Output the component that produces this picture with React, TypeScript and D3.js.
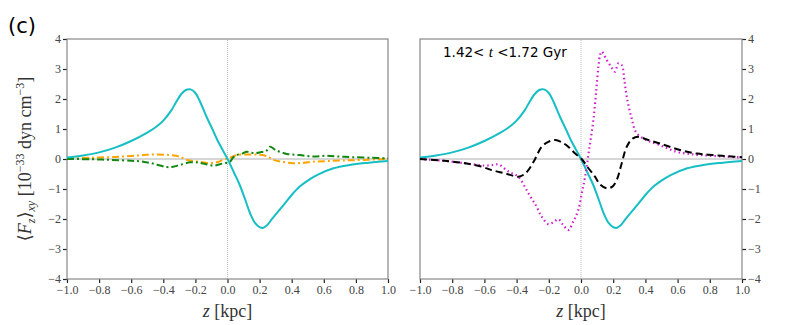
import React, { useEffect, useRef } from 'react'
import * as d3 from 'd3'

// cyan curve, same in both panels
const cyanZ = [-1, -0.9, -0.8, -0.7, -0.6, -0.5, -0.45, -0.4, -0.35, -0.32, -0.29, -0.26, -0.23, -0.2, -0.17, -0.13, -0.09, -0.065, -0.03, 0.005, 0.04, 0.075, 0.11, 0.14, 0.17, 0.2, 0.22, 0.245, 0.28, 0.35, 0.4, 0.45, 0.5, 0.56, 0.66, 0.76, 0.87, 1]
const cyanV = [0.05, 0.12, 0.22, 0.38, 0.6, 0.88, 1.05, 1.28, 1.62, 1.9, 2.15, 2.3, 2.32, 2.2, 1.9, 1.4, 0.95, 0.65, 0.3, -0.05, -0.45, -0.85, -1.35, -1.8, -2.12, -2.27, -2.3, -2.22, -1.98, -1.53, -1.2, -0.92, -0.72, -0.53, -0.31, -0.2, -0.13, -0.07]

// left panel
const orangeZ = [-1, -0.85, -0.7, -0.6, -0.525, -0.45, -0.358, -0.3, -0.254, -0.18, -0.11, -0.06, -0.03, 0.02, 0.057, 0.12, 0.22, 0.26, 0.285, 0.35, 0.41, 0.47, 0.535, 0.62, 0.72, 0.85, 1]
const orangeV = [0.02, 0.04, 0.07, 0.1, 0.13, 0.15, 0.13, 0.08, -0.03, -0.09, -0.14, -0.1, -0.03, 0.05, 0.13, 0.15, 0.13, 0.05, -0.03, -0.1, -0.14, -0.13, -0.09, -0.07, -0.05, -0.03, 0]
const greenZ = [-1, -0.85, -0.73, -0.6, -0.525, -0.45, -0.377, -0.34, -0.296, -0.233, -0.18, -0.15, -0.09, -0.03, 0.016, 0.035, 0.057, 0.09, 0.12, 0.15, 0.18, 0.21, 0.24, 0.265, 0.3, 0.37, 0.45, 0.535, 0.617, 0.7, 0.78, 0.9, 1]
const greenV = [0, -0.01, -0.03, -0.06, -0.09, -0.17, -0.27, -0.26, -0.2, -0.11, -0.12, -0.15, -0.22, -0.15, -0.09, 0.05, 0.13, 0.18, 0.24, 0.21, 0.2, 0.23, 0.26, 0.41, 0.3, 0.17, 0.13, 0.08, 0.11, 0.08, 0.06, 0.04, 0.02]

// right panel
const blackZ = [-1, -0.85, -0.72, -0.62, -0.555, -0.47, -0.39, -0.355, -0.327, -0.29, -0.244, -0.2, -0.16, -0.12, -0.079, -0.04, 0.004, 0.045, 0.087, 0.118, 0.16, 0.195, 0.222, 0.25, 0.284, 0.32, 0.356, 0.408, 0.5, 0.615, 0.72, 0.82, 0.92, 1]
const blackV = [0, -0.06, -0.14, -0.25, -0.37, -0.48, -0.59, -0.52, -0.37, -0.05, 0.41, 0.58, 0.63, 0.56, 0.41, 0.2, 0, -0.3, -0.59, -0.85, -0.98, -0.92, -0.7, -0.2, 0.41, 0.68, 0.74, 0.65, 0.5, 0.3, 0.18, 0.13, 0.09, 0.06]
const magentaZ = [-1, -0.85, -0.72, -0.6, -0.545, -0.513, -0.45, -0.39, -0.327, -0.28, -0.244, -0.203, -0.17, -0.14, -0.11, -0.079, -0.045, -0.017, 0.005, 0.025, 0.05, 0.077, 0.095, 0.108, 0.118, 0.128, 0.16, 0.19, 0.211, 0.232, 0.253, 0.27, 0.284, 0.31, 0.346, 0.408, 0.49, 0.594, 0.7, 0.8, 0.9, 1]
const magentaV = [0, -0.06, -0.14, -0.22, -0.2, -0.18, -0.42, -0.59, -1.14, -1.55, -1.92, -2.17, -2.1, -2.01, -2.2, -2.37, -2.05, -1.7, -1.14, -0.6, 0.3, 1.3, 2.3, 3.08, 3.45, 3.58, 3.3, 3.05, 2.91, 3.19, 3.13, 2.6, 2.08, 1.45, 0.86, 0.63, 0.46, 0.24, 0.15, 0.11, 0.08, 0.05]

const xTicks = [-1, -0.8, -0.6, -0.4, -0.2, 0, 0.2, 0.4, 0.6, 0.8, 1]
const yTicks = [-4, -3, -2, -1, 0, 1, 2, 3, 4]

const W = 789
const H = 325
const SERIF = 'Liberation Serif, DejaVu Serif, serif'
const SANS = 'DejaVu Sans, sans-serif'

export default function App() {
  const svgRef = useRef<SVGSVGElement>(null)

  useEffect(() => {
    const svg = d3.select(svgRef.current)
    svg.selectAll('*').remove()

    const y = d3.scaleLinear().domain([-4, 4]).range([279, 39])
    const fmt = (v: number) => d3.format('.1f')(v).replace('-', '\u2212')

    const panel = (x0: number, x1: number, rightAxis: boolean) => {
      const x = d3.scaleLinear().domain([-1, 1]).range([x0, x1])
      const g = svg.append('g')

      // zero guide lines
      g.append('line')
        .attr('x1', x0).attr('x2', x1)
        .attr('y1', y(0)).attr('y2', y(0))
        .attr('stroke', '#999').attr('stroke-width', 0.8)
      g.append('line')
        .attr('x1', x(0)).attr('x2', x(0))
        .attr('y1', y(-4)).attr('y2', y(4))
        .attr('stroke', '#aaa').attr('stroke-width', 0.8)
        .attr('stroke-dasharray', '1,1')

      const xa = g.append('g')
        .attr('transform', `translate(0,${y(-4)})`)
        .call(d3.axisBottom(x).tickValues(xTicks).tickSize(4).tickPadding(2).tickFormat(d => fmt(+d)))
      const ya = g.append('g')
        .attr('transform', `translate(${rightAxis ? x1 : x0},0)`)
        .call((rightAxis ? d3.axisRight(y) : d3.axisLeft(y)).tickValues(yTicks).tickSize(4).tickPadding(2)
          .tickFormat(d => String(d).replace('-', '\u2212')))
      for (const a of [xa, ya]) {
        a.attr('font-family', null)
        a.select('.domain').remove()
        a.selectAll('line').attr('stroke', '#222').attr('stroke-width', 1.2)
        a.selectAll('text').style('font-family', SERIF).style('font-size', '12px').attr('fill', '#444')
      }

      g.append('rect')
        .attr('x', x0).attr('y', y(4))
        .attr('width', x1 - x0).attr('height', y(-4) - y(4))
        .attr('fill', 'none').attr('stroke', '#888').attr('stroke-width', 1.2)

      g.append('text')
        .attr('x', (x0 + x1) / 2).attr('y', 317)
        .attr('text-anchor', 'middle')
        .style('font-family', SERIF).style('font-size', '18px').attr('fill', '#333')
        .html('<tspan font-style="italic">z</tspan> [kpc]')

      return { x, g }
    }

    const drawLine = (g: any, x: any, zs: number[], vs: number[], color: string, dash: string | null, width: number) => {
      const line = d3.line<number>()
        .x((_, i) => x(zs[i]))
        .y(d => y(d))
        .curve(d3.curveCatmullRom.alpha(0.5))
      const p = g.append('path')
        .datum(vs)
        .attr('d', line)
        .attr('fill', 'none')
        .attr('stroke', color)
        .attr('stroke-width', width)
      if (dash) p.attr('stroke-dasharray', dash)
      return p
    }

    const L = panel(67, 388, false)
    drawLine(L.g, L.x, orangeZ, orangeV, '#ffa500', '7,3,2,3', 2)
    drawLine(L.g, L.x, greenZ, greenV, '#128712', '7,3,2,3', 2)
    drawLine(L.g, L.x, cyanZ, cyanV, '#17bfc4', null, 2)

    const R = panel(420, 742, true)
    drawLine(R.g, R.x, cyanZ, cyanV, '#17bfc4', null, 2)
    drawLine(R.g, R.x, magentaZ, magentaV, '#d21cd2', '1.5,3', 2.2).attr('stroke-linecap', 'butt')
    drawLine(R.g, R.x, blackZ, blackV, '#000', '7,4', 2)

    svg.append('text')
      .attr('x', 443).attr('y', 57)
      .style('font-family', SANS).style('font-size', '13.5px')
      .html('1.42&lt; <tspan style="font-family: Liberation Serif, serif; font-style: italic; font-size: 15px">t</tspan> &lt;1.72 Gyr')

    svg.append('text')
      .attr('x', 8).attr('y', 33)
      .style('font-family', SANS).style('font-size', '21px')
      .text('(c)')

    svg.append('text')
      .attr('transform', `translate(31,${y(0)}) rotate(-90)`)
      .attr('text-anchor', 'middle')
      .style('font-family', SERIF).style('font-size', '18px').attr('fill', '#333')
      .html('⟨<tspan font-style="italic">F</tspan><tspan font-style="italic" font-size="12" dy="4">z</tspan><tspan dy="-4">⟩</tspan><tspan font-style="italic" font-size="12" dy="4">xy</tspan><tspan dy="-4">  [10</tspan><tspan font-size="12" dy="-7">\u221233</tspan><tspan dy="7"> dyn cm</tspan><tspan font-size="12" dy="-7">\u22123</tspan><tspan dy="7">]</tspan>')
  }, [])

  return (
    <svg ref={svgRef} width={W} height={H} style={{ position: 'absolute', left: 0, top: 0 }} />
  )
}
